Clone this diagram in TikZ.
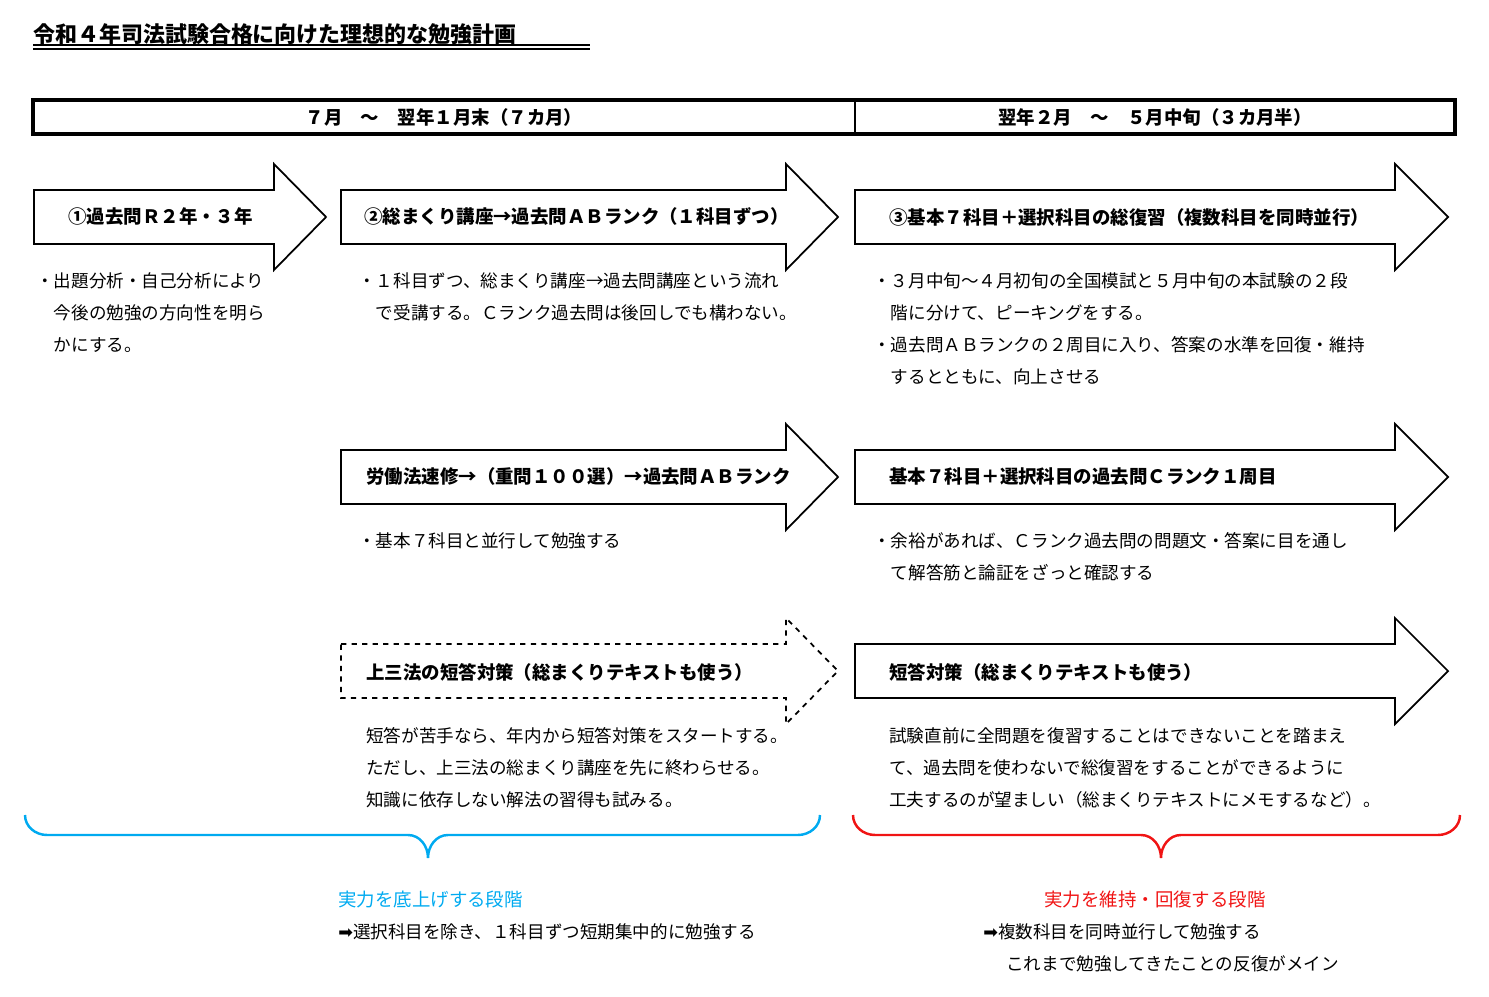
\documentclass[tikz,border=0pt]{standalone}
\usepackage{fontspec}
\setmainfont{Noto Sans CJK JP}
\newfontfamily\dv{DejaVu Sans}
\definecolor{bblue}{RGB}{0,170,240}
\definecolor{rred}{RGB}{240,20,20}
\tikzset{
  arr/.style={draw=black,line width=1pt,fill=white},
  lab/.style={anchor=west,font=\fontsize{10.5}{12}\selectfont\bfseries,inner sep=0pt},
  body/.style={anchor=north west,align=left,font=\fontsize{10}{18.2}\selectfont,inner sep=0pt},
  brace/.style={line width=1.4pt,rounded corners=0pt}
}
\newcommand{\bigarrow}[5][]{% x1 x2 tip yc
  \draw[arr,#1] (#2,#5-27) -- (#3,#5-27) -- (#3,#5-53) -- (#4,#5) -- (#3,#5+53) -- (#3,#5+27) -- (#2,#5+27) -- cycle;}
\begin{document}
\begin{tikzpicture}[x=0.02cm,y=-0.02cm]
\useasboundingbox (0,0) rectangle (1489,997);
% title
\node[anchor=west,inner sep=0pt,font=\fontsize{12.5}{14}\selectfont\bfseries] (title) at (33,34) {令和４年司法試験合格に向けた理想的な勉強計画};
\draw[line width=0.6pt] (33,45) -- (590,45) (33,49) -- (590,49);
% header
\draw[line width=2.2pt] (33,100) rectangle (1455,134);
\draw[line width=1.6pt] (855,100) -- (855,134);
\node[font=\fontsize{10.5}{12}\selectfont\bfseries] (h1) at (444,117) {７月　～　翌年１月末（７カ月）};
\node[font=\fontsize{10.5}{12}\selectfont\bfseries] (h2) at (1155,117) {翌年２月　～　５月中旬（３カ月半）};
% row 1
\bigarrow{34}{274}{326}{217}
\bigarrow{341}{786}{838}{217}
\bigarrow{855}{1395}{1448}{217}
\node[lab] (a1) at (68,217) {①過去問Ｒ２年・３年};
\node[lab] (a2) at (364,217) {②総まくり講座→過去問ＡＢランク（１科目ずつ）};
\node[lab] (a3) at (889,217) {③基本７科目＋選択科目の総復習（複数科目を同時並行）};
\node[body] (t1) at (36,272) {・出題分析・自己分析により\\　今後の勉強の方向性を明ら\\　かにする。};
\node[body] (t2) at (358,272) {・１科目ずつ、総まくり講座→過去問講座という流れ\\　で受講する。Ｃランク過去問は後回しでも構わない。};
\node[body] (t3) at (873,272) {・３月中旬～４月初旬の全国模試と５月中旬の本試験の２段\\　階に分けて、ピーキングをする。\\・過去問ＡＢランクの２周目に入り、答案の水準を回復・維持\\　するとともに、向上させる};
% row 2
\bigarrow{341}{786}{838}{477}
\bigarrow{855}{1395}{1448}{477}
\node[lab] (b2) at (366,477) {労働法速修→（重問１００選）→過去問ＡＢランク};
\node[lab] (b3) at (889,477) {基本７科目＋選択科目の過去問Ｃランク１周目};
\node[body] (u2) at (358,532) {・基本７科目と並行して勉強する};
\node[body] (u3) at (873,532) {・余裕があれば、Ｃランク過去問の問題文・答案に目を通し\\　て解答筋と論証をざっと確認する};
% row 3
\bigarrow[dashed]{341}{786}{838}{671}
\bigarrow{855}{1395}{1448}{671}
\node[lab] (c2) at (366,672) {上三法の短答対策（総まくりテキストも使う）};
\node[lab] (c3) at (889,672) {短答対策（総まくりテキストも使う）};
\node[body] (v2) at (366,727) {短答が苦手なら、年内から短答対策をスタートする。\\ただし、上三法の総まくり講座を先に終わらせる。\\知識に依存しない解法の習得も試みる。};
\node[body] (v3) at (889,727) {試験直前に全問題を復習することはできないことを踏まえ\\て、過去問を使わないで総復習をすることができるように\\工夫するのが望ましい（総まくりテキストにメモするなど）。};
% braces
\draw[brace,bblue] (25,815) to[out=-90,in=180] (47,835) -- (408,835) to[out=0,in=90] (428,858) to[out=90,in=180] (448,835) -- (798,835) to[out=0,in=-90] (820,815);
\draw[brace,rred] (853,815) to[out=-90,in=180] (875,835) -- (1141,835) to[out=0,in=90] (1161,858) to[out=90,in=180] (1181,835) -- (1438,835) to[out=0,in=-90] (1460,815);
\node[anchor=west,inner sep=0pt,text=bblue,font=\fontsize{10.5}{12}\selectfont] (s1) at (338,900) {実力を底上げする段階};
\node[anchor=west,inner sep=0pt,font=\fontsize{10}{12}\selectfont] (s1b) at (338,932) {{\dv ➡}選択科目を除き、１科目ずつ短期集中的に勉強する};
\node[anchor=west,inner sep=0pt,text=rred,font=\fontsize{10.5}{12}\selectfont] (s2) at (1044,900) {実力を維持・回復する段階};
\node[anchor=west,inner sep=0pt,font=\fontsize{10}{12}\selectfont] (s2b) at (983,932) {{\dv ➡}複数科目を同時並行して勉強する};
\node[anchor=west,inner sep=0pt,font=\fontsize{10}{12}\selectfont] (s2c) at (1006,964) {これまで勉強してきたことの反復がメイン};
\end{tikzpicture}
\end{document}
